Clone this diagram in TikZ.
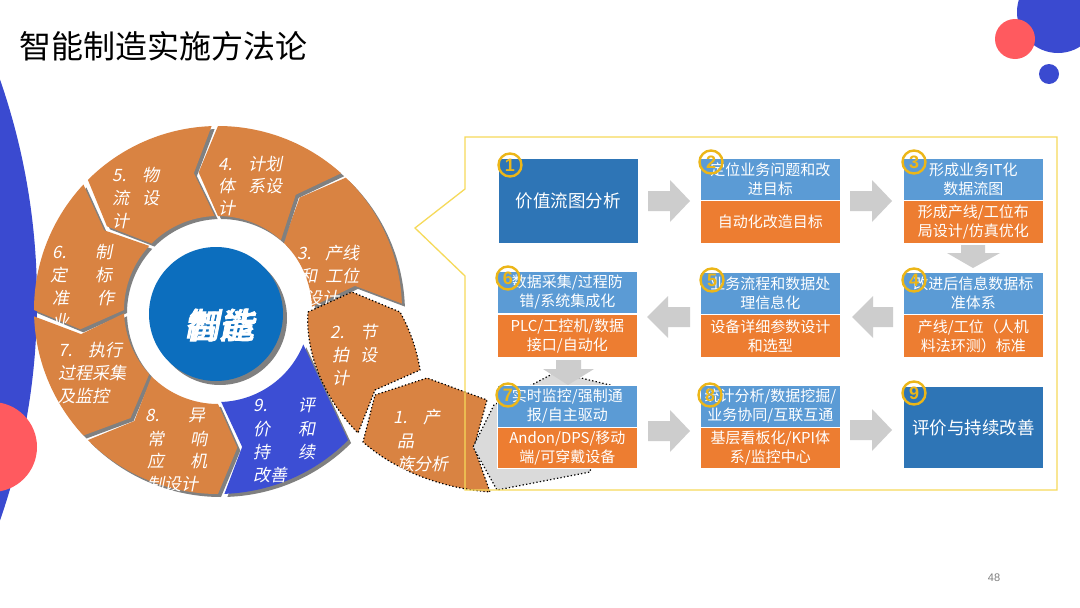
\documentclass[tikz,border=0pt]{standalone}
\usepackage{fontspec}
\newfontfamily\cjk{Noto Sans CJK SC}
\newfontfamily\cjkit[FakeSlant=0.2]{Noto Sans CJK SC}
\newfontfamily\cjkbi[FakeSlant=0.2,FakeBold=2.5]{Noto Sans CJK SC}
\newfontfamily\digf{Liberation Sans}
\definecolor{decoblue}{RGB}{58,74,208}
\definecolor{decored}{RGB}{255,90,95}
\definecolor{ringor}{RGB}{217,131,66}
\definecolor{segblue}{RGB}{60,78,212}
\definecolor{hubblue}{RGB}{12,110,190}
\definecolor{shadowgray}{RGB}{128,128,128}
\definecolor{dkblue}{RGB}{46,117,182}
\definecolor{ltblue}{RGB}{91,155,213}
\definecolor{boxor}{RGB}{237,125,49}
\definecolor{gold}{RGB}{236,182,24}
\definecolor{frameyel}{RGB}{246,218,90}
\definecolor{arrgray}{RGB}{205,205,205}
\definecolor{ghostgray}{RGB}{218,218,218}
\newcommand{\segpath}[2]{(#1:184) arc[start angle=#1,end angle=#2,radius=184] -- ({#2+8}:139) -- (#2:94) arc[start angle=#2,end angle=#1,radius=94] -- ({#1+8}:139) -- cycle}
\newcommand{\rarr}[3]{\fill[arrgray] (#1,#3-10) -- (#1+22,#3-10) -- (#1+22,#3-21) -- (#2,#3) -- (#1+22,#3+21) -- (#1+22,#3+10) -- (#1,#3+10) -- cycle;}
\newcommand{\larr}[3]{\fill[arrgray] (#2,#3-10) -- (#1+21,#3-10) -- (#1+21,#3-21) -- (#1,#3) -- (#1+21,#3+21) -- (#1+21,#3+10) -- (#2,#3+10) -- cycle;}
\begin{document}
\begin{tikzpicture}[x=1pt,y=-1pt,
  lab/.style={anchor=base west,inner sep=0,text=white,font=\cjkit\fontsize{17}{17}\selectfont},
  tb/.style={anchor=north west,minimum width=140,minimum height=42,fill=ltblue,draw=white,line width=0.8,text=white,align=center,inner sep=0,font=\cjk\fontsize{15}{19}\selectfont},
  bb/.style={tb,fill=boxor,minimum height=43},
  fb/.style={tb,fill=dkblue,minimum height=85,font=\cjk\fontsize{17.5}{21}\selectfont},
  numc/.style={circle,draw=gold,line width=2.4,minimum size=23,inner sep=0,text=gold,font=\digf\bfseries\fontsize{18}{18}\selectfont},
  dotline/.style={draw=black,line width=1.2,dash pattern=on 1.3pt off 2.2pt}]
\useasboundingbox (0,0) rectangle (1080,608);
\fill[white] (0,0) rectangle (1080,608);
% decorations
\fill[decoblue] (-635,300) circle (672);
\fill[decored] (-8,447) circle (45);
\fill[decoblue] (1058,12) circle (41);
\fill[decored] (1015,39) circle (20);
\fill[decoblue] (1049,74) circle (10);
% title
\node[anchor=west,inner sep=0] (title) at (19,46) {\cjk\fontsize{32}{32}\selectfont 智能制造实施方法论};
\node[inner sep=0,text=black!50] (pagenum) at (994,578) {\digf\fontsize{11}{11}\selectfont 48};
% hub
\fill[shadowgray] (220,318) circle (67);
\fill[hubblue] (216,314) circle (67);
\node[text=white,inner sep=0] (hubA) at (219,325) {\cjkbi\fontsize{35}{35}\selectfont 智能};
\node[text=white,inner sep=0] (hubB) at (219,325) {\cjkbi\fontsize{35}{35}\selectfont 制造};
% ring
\begin{scope}[shift={(221,313)},yscale=-1]
  \fill[shadowgray] \segpath{2}{46};
\end{scope}
\begin{scope}[shift={(218,310)},yscale=-1]
  \fill[ringor] \segpath{2}{46};
\end{scope}
\node[lab] (l3a) at (297,259) {3.};
\node[lab] (l3b) at (325,259) {产线};
\node[lab] (l3c) at (300,282) {和};
\node[lab] (l3d) at (325,282) {工位};
\node[lab] (l3e) at (305,304) {设计};
\begin{scope}[shift={(221,313)},yscale=-1]
  \fill[shadowgray] \segpath{48}{90};
\end{scope}
\begin{scope}[shift={(218,310)},yscale=-1]
  \fill[ringor] \segpath{48}{90};
\end{scope}
\node[lab] (l4a) at (218,170) {4.};
\node[lab] (l4b) at (248,170) {计划};
\node[lab] (l4c) at (218,192) {体};
\node[lab] (l4d) at (248,192) {系设};
\node[lab] (l4e) at (218,214) {计};
\begin{scope}[shift={(221,313)},yscale=-1]
  \fill[shadowgray] \segpath{92}{135};
\end{scope}
\begin{scope}[shift={(218,310)},yscale=-1]
  \fill[ringor] \segpath{92}{135};
\end{scope}
\node[lab] (l5a) at (112,181) {5.};
\node[lab] (l5b) at (142,181) {物};
\node[lab] (l5c) at (112,204) {流};
\node[lab] (l5d) at (142,204) {设};
\node[lab] (l5e) at (112,227) {计};
\begin{scope}[shift={(221,313)},yscale=-1]
  \fill[shadowgray] \segpath{137}{180};
\end{scope}
\begin{scope}[shift={(218,310)},yscale=-1]
  \fill[ringor] \segpath{137}{180};
\end{scope}
\node[lab] (l6a) at (52,258) {6.};
\node[lab] (l6b) at (95,258) {制};
\node[lab] (l6c) at (50,281) {定};
\node[lab] (l6d) at (95,281) {标};
\node[lab] (l6e) at (52,304) {准};
\node[lab] (l6f) at (97,304) {作};
\node[lab] (l6g) at (52,327) {业};
\begin{scope}[shift={(221,313)},yscale=-1]
  \fill[shadowgray] \segpath{182}{223};
\end{scope}
\begin{scope}[shift={(218,310)},yscale=-1]
  \fill[ringor] \segpath{182}{223};
\end{scope}
\node[lab] (l7a) at (58,356) {7.};
\node[lab] (l7b) at (88,356) {执行};
\node[lab] (l7c) at (58,379) {过程采集};
\node[lab] (l7d) at (58,402) {及监控};
\begin{scope}[shift={(221,313)},yscale=-1]
  \fill[shadowgray] \segpath{225}{270};
\end{scope}
\begin{scope}[shift={(218,310)},yscale=-1]
  \fill[ringor] \segpath{225}{270};
\end{scope}
\node[lab] (l8a) at (145,421) {8.};
\node[lab] (l8b) at (188,421) {异};
\node[lab] (l8c) at (147,445) {常};
\node[lab] (l8d) at (190,445) {响};
\node[lab] (l8e) at (147,467) {应};
\node[lab] (l8f) at (190,467) {机};
\node[lab] (l8g) at (147,490) {制设计};
\begin{scope}[shift={(221,313)},yscale=-1]
  \fill[shadowgray] (272:184) arc[start angle=272,end angle=315,radius=184] -- (338:92) arc[start angle=338,end angle=272,radius=92] -- (280:139) -- cycle;
\end{scope}
\begin{scope}[shift={(218,310)},yscale=-1]
  \fill[segblue] (272:184) arc[start angle=272,end angle=315,radius=184] -- (338:92) arc[start angle=338,end angle=272,radius=92] -- (280:139) -- cycle;
\end{scope}
\node[lab] (l9a) at (253,411) {9.};
\node[lab] (l9b) at (298,411) {评};
\node[lab] (l9c) at (253,435) {价};
\node[lab] (l9d) at (298,435) {和};
\node[lab] (l9e) at (253,458) {持};
\node[lab] (l9f) at (298,458) {续};
\node[lab] (l9g) at (253,481) {改善};
% exploded segment 2
\fill[ringor,dotline] (308,312) -- (352,292) -- (400,312) .. controls (410,330) and (417,350) .. (420,370) -- (375,390) -- (358,433) .. controls (330,405) and (305,360) .. (308,312) -- cycle;
\node[lab] (l2a) at (330,338) {2.};
\node[lab] (l2b) at (360,338) {节};
\node[lab] (l2c) at (332,361) {拍};
\node[lab] (l2d) at (360,361) {设};
\node[lab] (l2e) at (332,384) {计};
% exploded segment 1
\fill[ringor,dotline] (375,395) -- (427,378) -- (487,400) -- (474,447) -- (490,492) .. controls (440,488) and (395,470) .. (363,442) -- cycle;
\node[lab] (l1a) at (393,423) {1.};
\node[lab] (l1b) at (423,423) {产};
\node[lab] (l1c) at (397,447) {品};
\node[lab] (l1d) at (397,470) {族分析};
% ghost shape
\fill[ghostgray,dotline] (556,372) -- (494,405) -- (473,447) -- (497,490) -- (590,472) -- (610,385) -- cycle;
% frame
\draw[frameyel,line width=1.3] (465,137) -- (1057,137) -- (1057,490) -- (465,490) -- (465,276) -- (415,228) -- (465,189) -- cycle;
% arrows
\rarr{648}{690}{201}
\rarr{850}{892}{201}
\larr{647}{690}{317}
\larr{852}{893}{317}
\rarr{648}{690}{431}
\rarr{850}{892}{430}
\fill[arrgray] (961,245) -- (985,245) -- (985,253) -- (1000,253) -- (973,268) -- (947,253) -- (961,253) -- cycle;
\fill[arrgray] (556,360) -- (581,360) -- (581,369) -- (594,369) -- (568,385) -- (543,369) -- (556,369) -- cycle;
% boxes
\node[fb] (b1) at (498,158) {价值流图分析};
\node[tb] (b2t) at (700,158) {定位业务问题和改\\进目标};
\node[bb] (b2b) at (700,200) {自动化改造目标};
\node[tb] (b3t) at (903,158) {形成业务IT化\\数据流图};
\node[bb] (b3b) at (903,200) {形成产线/工位布\\局设计/仿真优化};
\node[tb] (b6t) at (497,271) {数据采集/过程防\\错/系统集成化};
\node[bb] (b6b) at (497,314) {PLC/工控机/数据\\接口/自动化};
\node[tb] (b5t) at (700,272) {业务流程和数据处\\理信息化};
\node[bb] (b5b) at (700,314) {设备详细参数设计\\和选型};
\node[tb] (b4t) at (903,272) {改进后信息数据标\\准体系};
\node[bb] (b4b) at (903,314) {产线/工位（人机\\料法环测）标准};
\node[tb] (b7t) at (497,385) {实时监控/强制通\\报/自主驱动};
\node[bb,minimum height=41] (b7b) at (497,427) {Andon/DPS/移动\\端/可穿戴设备};
\node[tb] (b8t) at (700,385) {统计分析/数据挖掘/\\业务协同/互联互通};
\node[bb,minimum height=41] (b8b) at (700,427) {基层看板化/KPI体\\系/监控中心};
\node[fb,minimum height=82] (b9) at (903,386) {评价与持续改善};
% number badges
\node[numc] (n1) at (510,165) {1};
\node[numc] (n2) at (711,162) {2};
\node[numc] (n3) at (914,162) {3};
\node[numc] (n4) at (914,280) {4};
\node[numc] (n5) at (712,280) {5};
\node[numc] (n6) at (508,278) {6};
\node[numc] (n7) at (508,395) {7};
\node[numc] (n8) at (710,395) {8};
\node[numc] (n9) at (914,393) {9};
\end{tikzpicture}
\end{document}
